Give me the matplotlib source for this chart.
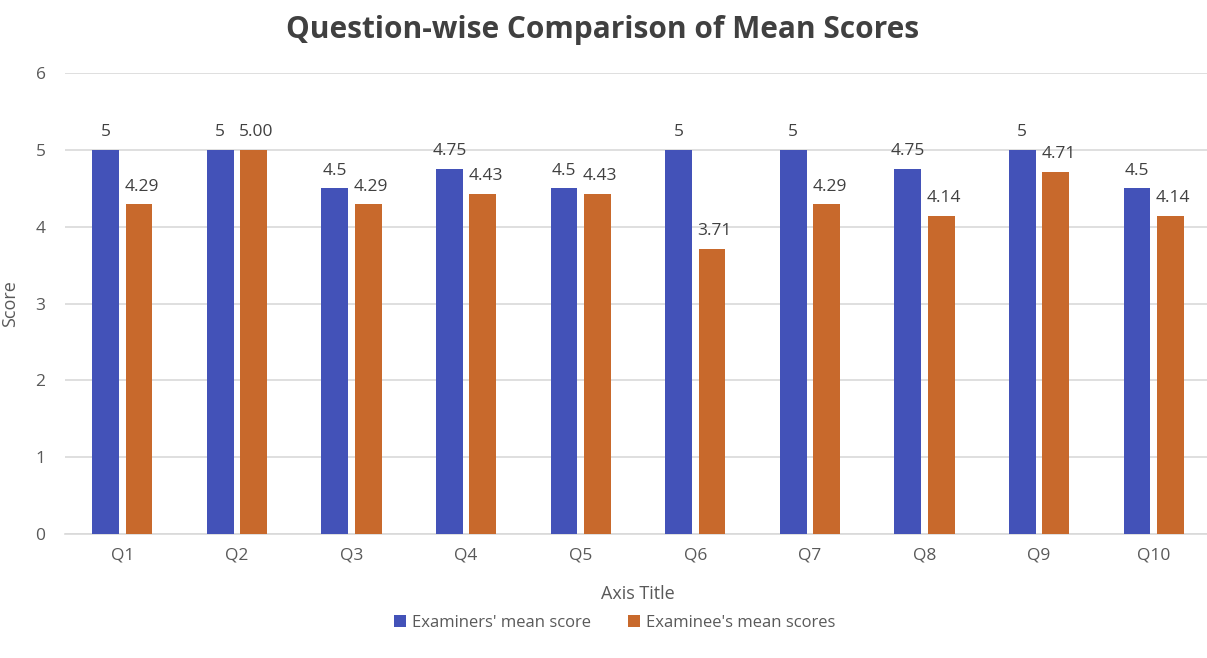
import numpy as np
import matplotlib.pyplot as plt

plt.rcParams['font.family'] = ['Open Sans', 'DejaVu Sans']

questions = ['Q1', 'Q2', 'Q3', 'Q4', 'Q5', 'Q6', 'Q7', 'Q8', 'Q9', 'Q10']
examiners = [5, 5, 4.5, 4.75, 4.5, 5, 5, 4.75, 5, 4.5]
examinee = [4.29, 5.00, 4.29, 4.43, 4.43, 3.71, 4.29, 4.14, 4.71, 4.14]
examiners_lbl = ['5', '5', '4.5', '4.75', '4.5', '5', '5', '4.75', '5', '4.5']
examinee_lbl = ['4.29', '5.00', '4.29', '4.43', '4.43', '3.71', '4.29', '4.14', '4.71', '4.14']

BLUE = '#4352B8'
ORANGE = '#C8692C'
GRAY = '#595959'

fig = plt.figure(figsize=(12.07, 6.58), dpi=100)
ax = fig.add_axes([65 / 1207, 124 / 658, 1146 / 1207, 461 / 658])

x = np.arange(len(questions))
w = 0.235
off = 0.146
b1 = ax.bar(x - off, examiners, w, color=BLUE, label="Examiners' mean score", zorder=3)
b2 = ax.bar(x + off, examinee, w, color=ORANGE, label="Examinee's mean scores", zorder=3)

for xi, v, s in zip(x, examiners, examiners_lbl):
    ax.annotate(s, (xi - off, v), xytext=(0, 7), textcoords='offset points',
                ha='center', va='bottom', fontsize=12.5, color='#404040')
for xi, v, s in zip(x, examinee, examinee_lbl):
    ax.annotate(s, (xi + off, v), xytext=(2, 7), textcoords='offset points',
                ha='center', va='bottom', fontsize=12.5, color='#404040')

ax.set_xlim(-0.5, len(questions) - 0.5)
ax.set_ylim(0, 6)
ax.set_yticks(range(7))
ax.set_xticks(x)
ax.set_xticklabels(questions)
ax.tick_params(length=0, labelsize=12.5, labelcolor=GRAY, pad=10)
ax.tick_params(axis='y', pad=14)
ax.grid(axis='y', color='#D9D9D9', linewidth=1.2, zorder=0)
for sp in ['top', 'right', 'left']:
    ax.spines[sp].set_visible(False)
ax.spines['bottom'].set_color('#D9D9D9')
ax.spines['bottom'].set_linewidth(1.2)

ax.set_xlabel('Axis Title', fontsize=13, color=GRAY, labelpad=15)
ax.set_ylabel('Score', fontsize=13, color=GRAY, labelpad=12)

fig.suptitle('Question-wise Comparison of Mean Scores', x=603 / 1207, y=1 - 30 / 658,
             va='center', fontsize=21.5, fontweight='bold', color='#404040')

fig.legend(handles=[b1, b2], loc='center', bbox_to_anchor=(615 / 1207, 1 - 623 / 658),
           ncol=2, frameon=False, fontsize=12, labelcolor=GRAY,
           handlelength=0.7, handleheight=0.7, handletextpad=0.4, columnspacing=2.2)

fig.savefig('out.png', dpi=100)
